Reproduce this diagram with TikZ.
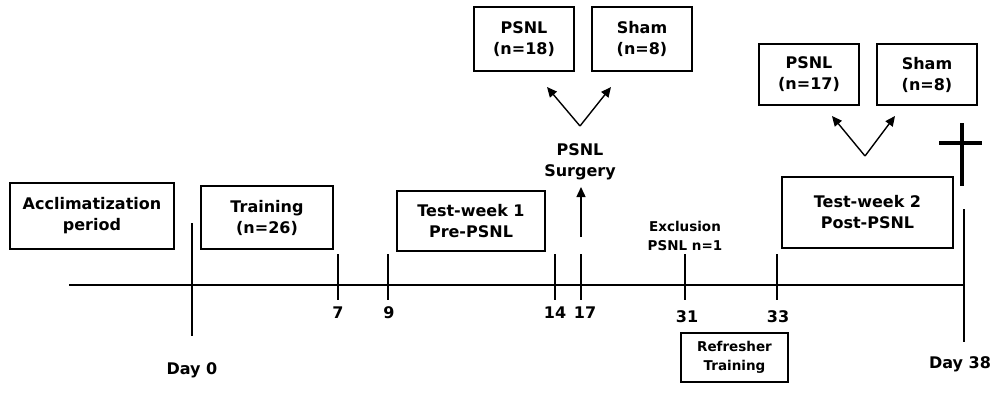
\documentclass[tikz,border=0pt]{standalone}
\usepackage{fontspec}
\setmainfont{DejaVu Sans}
\usetikzlibrary{arrows.meta}
\begin{document}
\begin{tikzpicture}[x=1pt,y=-1pt,
  box/.style={draw,line width=2.2pt,align=center,inner sep=0pt,
    font=\fontsize{16}{21}\selectfont\bfseries},
  lbl/.style={align=center,inner sep=0pt,font=\fontsize{16}{21}\selectfont\bfseries},
  slbl/.style={align=center,inner sep=0pt,font=\fontsize{13.5}{19}\selectfont\bfseries},
  sbox/.style={box,font=\fontsize{13.5}{19}\selectfont\bfseries},
  line/.style={line width=2.2pt},
  arr/.style={line width=1.4pt,-{Triangle[length=10pt,width=9pt]}}]
\useasboundingbox (0,0) rectangle (996,392);
% boxes
\node[box,minimum width=164pt,minimum height=66pt] (acc) at (92,216) {Acclimatization\\period};
\node[box,minimum width=132pt,minimum height=63pt] (train) at (267,217.5) {Training\\(n=26)};
\node[box,minimum width=148pt,minimum height=60pt] (tw1) at (471,221) {Test-week 1\\Pre-PSNL};
\node[box,minimum width=100pt,minimum height=64pt] (psnlA) at (524,39) {PSNL\\(n=18)};
\node[box,minimum width=100pt,minimum height=64pt] (shamA) at (642,39) {Sham\\(n=8)};
\node[box,minimum width=171pt,minimum height=71pt] (tw2) at (867.5,212.5) {Test-week 2\\Post-PSNL};
\node[box,minimum width=100pt,minimum height=61pt] (psnlB) at (809,74.5) {PSNL\\(n=17)};
\node[box,minimum width=100pt,minimum height=61pt] (shamB) at (927,74.5) {Sham\\(n=8)};
\node[sbox,minimum width=107pt,minimum height=49pt] (refr) at (734.5,357.5) {Refresher\\Training};
% labels
\node[lbl] (surg) at (580,162) {PSNL\\Surgery};
\node[slbl] (excl) at (685,236) {Exclusion\\PSNL n=1};
\node[lbl] (d0) at (192,370) {Day 0};
\node[lbl] (d38) at (960,364) {Day 38};
\node[lbl] (n7) at (338,313) {7};
\node[lbl] (n9) at (389,313) {9};
\node[lbl] (n14) at (555,313) {14};
\node[lbl] (n17) at (585,313) {17};
\node[lbl] (n31) at (687,317) {31};
\node[lbl] (n33) at (778,317) {33};
% timeline
\coordinate (t0) at (69,285);
\coordinate (t1) at (964,285);
\draw[line] (t0) -- (t1);
\coordinate (d0a) at (192,223); \coordinate (d0b) at (192,336);
\draw[line] (d0a) -- (d0b);
\foreach \x/\n in {338/a,388/b,555/c,581/d,685/e,777/f}{
  \coordinate (tk\n a) at (\x,254); \coordinate (tk\n b) at (\x,300);
  \draw[line] (tk\n a) -- (tk\n b);
}
\coordinate (d38a) at (964,209); \coordinate (d38b) at (964,342);
\draw[line] (d38a) -- (d38b);
% cross
\coordinate (cra) at (962,123); \coordinate (crb) at (962,186);
\coordinate (crc) at (939,143); \coordinate (crd) at (982,143);
\draw[line width=4pt] (cra) -- (crb);
\draw[line width=4pt] (crc) -- (crd);
% arrows
\coordinate (sA) at (581,237); \coordinate (sB) at (581,187);
\draw[arr] (sA) -- (sB);
\coordinate (vA) at (580,126); \coordinate (vAl) at (547,87); \coordinate (vAr) at (611,87);
\draw[arr] (vA) -- (vAl);
\draw[arr] (vA) -- (vAr);
\coordinate (vB) at (865,156); \coordinate (vBl) at (832,116); \coordinate (vBr) at (895,116);
\draw[arr] (vB) -- (vBl);
\draw[arr] (vB) -- (vBr);
\end{tikzpicture}
\end{document}
